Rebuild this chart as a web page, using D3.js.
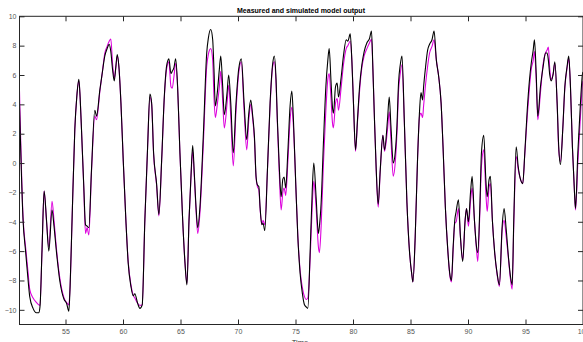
<!DOCTYPE html>
<html><head><meta charset="utf-8">
<script src="https://cdn.jsdelivr.net/npm/d3@7"></script>
<style>html,body{margin:0;padding:0;background:#fff;overflow:hidden}</style>
</head><body><svg id="c" width="583" height="342"></svg>
<script>
const title = "Measured and simulated model output";
const xLabel = "Time";
const xTicks = [55, 60, 65, 70, 75, 80, 85, 90, 95, 100];
const yTicks = [-10, -8, -6, -4, -2, 0, 2, 4, 6, 8, 10];
const time = [51.00,51.31,51.54,51.75,51.89,52.18,52.47,52.67,52.78,52.96,53.14,53.35,53.55,53.83,54.00,54.22,54.50,54.88,55.09,55.29,55.40,55.57,55.81,55.98,56.16,56.27,56.39,56.59,56.74,56.88,57.03,57.26,57.55,57.70,57.99,58.19,58.42,58.62,58.80,58.94,59.09,59.24,59.38,59.50,59.64,59.82,60.02,60.25,60.45,60.69,60.89,61.03,61.27,61.47,61.67,61.90,62.14,62.34,62.49,62.66,62.92,63.12,63.36,63.59,63.79,63.99,64.17,64.28,64.43,64.58,64.75,64.95,65.19,65.39,65.56,65.74,65.91,66.06,66.20,66.35,66.50,66.69,66.98,67.28,67.42,67.63,67.80,67.91,68.03,68.20,68.38,68.50,68.67,68.81,69.05,69.19,69.37,69.59,69.83,70.06,70.29,70.53,70.76,70.94,71.11,71.28,71.43,71.57,71.69,71.81,71.92,72.07,72.18,72.33,72.56,72.79,73.02,73.16,73.31,73.42,73.60,73.75,73.90,74.01,74.15,74.33,74.53,74.68,74.82,75.03,75.20,75.40,75.60,75.78,75.93,76.07,76.27,76.45,76.59,76.79,76.99,77.08,77.23,77.43,77.64,77.81,77.93,78.08,78.22,78.30,78.48,78.62,78.74,78.95,79.17,79.41,79.55,79.76,79.90,80.04,80.22,80.39,80.57,80.77,80.97,81.21,81.44,81.61,81.73,81.85,82.02,82.19,82.37,82.60,82.74,83.00,83.15,83.30,83.50,83.67,83.82,83.96,84.11,84.26,84.46,84.69,84.92,85.13,85.21,85.41,85.61,85.79,85.91,86.05,86.14,86.29,86.49,86.66,86.87,87.05,87.25,87.45,87.66,87.83,88.03,88.24,88.41,88.56,88.71,88.85,88.97,89.17,89.34,89.54,89.75,89.87,90.04,90.22,90.36,90.56,90.74,90.85,91.03,91.17,91.37,91.55,91.67,91.84,91.95,92.12,92.32,92.53,92.73,92.97,93.14,93.32,93.54,93.69,93.84,93.98,94.19,94.36,94.56,94.76,94.94,95.15,95.35,95.50,95.67,95.78,95.93,96.07,96.30,96.54,96.74,96.88,96.99,97.11,97.23,97.41,97.55,97.75,97.89,98.04,98.24,98.42,98.62,98.76,98.91,99.08,99.26,99.35,99.55,99.78,99.96,100.0];
const measured = [4.0,-3.9,-6.1,-8.0,-9.1,-9.9,-10.2,-10.2,-9.8,-5.9,-1.9,-3.9,-6.0,-3.2,-4.3,-6.1,-8.0,-9.3,-9.55,-10.1,-8.4,-3.9,2.3,4.5,5.7,4.5,2.3,-1.6,-4.2,-4.3,-4.4,-0.45,3.6,3.2,5.0,6.1,7.3,7.8,8.1,7.6,6.4,5.6,6.6,7.4,6.6,4.1,0.2,-3.9,-6.8,-8.4,-9.05,-8.9,-9.55,-9.9,-9.66,-3.9,1.1,4.7,4.1,0.7,-1.4,-3.5,0.2,4.5,6.6,7.1,6.1,6.25,6.5,7.1,5.2,0.7,-3.9,-6.8,-8.3,-3.9,-0.9,1.2,-0.7,-3.0,-4.4,-3.0,1.8,7.5,8.5,9.1,8.4,6.4,3.9,4.8,6.4,7.3,5.2,3.3,4.8,6.0,4.1,0.7,4.1,6.4,7.1,4.1,1.6,3.4,4.3,3.2,1.8,-0.9,-1.5,-1.6,-3.0,-4.2,-4.1,-4.6,-0.45,4.1,6.8,7.3,5.7,3.0,-0.45,-2.3,-1.1,-0.95,-1.7,0.7,3.9,4.9,2.95,-1.6,-5.0,-7.5,-8.9,-9.66,-9.8,-9.9,-6.1,-2.0,0.0,-2.3,-4.8,-4.3,-2.7,1.4,5.2,7.0,7.8,5.7,3.75,3.4,5.2,5.45,4.5,5.7,7.3,8.4,8.3,8.8,7.0,4.1,0.9,2.95,5.2,6.7,7.6,8.2,8.5,9.0,6.4,3.4,-0.45,-2.8,-0.45,1.9,0.9,2.95,4.5,2.5,0.0,0.7,2.5,5.45,6.7,7.3,2.95,-2.7,-6.1,-7.7,-8.1,-5.0,0.2,3.6,4.8,4.3,5.2,6.4,7.7,8.1,8.4,9.0,7.0,5.9,4.1,1.1,-3.0,-5.9,-7.5,-8.0,-5.7,-3.9,-3.3,-2.5,-5.0,-6.7,-3.9,-3.1,-4.0,-2.0,-0.9,-3.9,-5.7,-6.1,-3.0,0.7,1.9,-1.1,-2.3,-1.1,-0.9,-3.9,-6.1,-7.5,-8.3,-4.3,-3.1,-4.5,-6.6,-7.7,-8.3,-3.9,1.1,-0.2,-1.1,-1.4,0.7,3.6,5.7,6.8,7.7,8.4,6.1,3.2,5.2,6.6,7.5,7.5,7.0,6.0,5.6,6.1,6.9,4.1,1.1,-0.1,2.3,5.2,6.6,7.3,5.2,1.1,-2.0,-3.1,0.7,4.1,6.1,6.2];
const simulated = [4.9,-3.7,-5.8,-7.5,-8.6,-9.2,-9.5,-9.66,-9.7,-5.9,-1.9,-4.0,-5.7,-2.6,-3.9,-5.9,-7.8,-9.2,-9.5,-9.66,-8.4,-3.9,2.3,4.5,5.6,4.5,2.3,-1.7,-4.8,-4.4,-4.9,-0.6,3.2,2.95,4.9,6.1,7.5,7.95,8.3,8.45,6.8,5.8,6.5,7.3,6.6,4.1,0.2,-3.9,-6.7,-8.3,-9.0,-9.2,-9.55,-9.7,-9.66,-3.9,1.1,4.5,4.0,0.6,-1.5,-3.6,0.1,4.4,6.4,6.9,5.2,5.1,5.9,6.8,5.1,0.7,-3.9,-6.8,-8.2,-3.9,-1.0,0.8,-0.9,-3.2,-4.8,-3.4,1.2,6.6,7.4,7.8,7.0,4.5,3.1,4.0,5.2,6.25,4.2,2.4,4.1,5.3,3.2,-0.2,3.6,6.1,6.9,3.6,0.9,2.95,4.0,3.0,1.6,-1.0,-1.6,-1.8,-3.1,-4.2,-3.9,-4.2,-0.5,3.9,6.6,6.9,5.4,2.8,-0.9,-3.2,-2.0,-1.7,-2.2,0.0,2.95,3.8,2.5,-1.6,-4.9,-7.3,-8.5,-9.1,-9.3,-9.2,-6.6,-3.0,-1.25,-3.0,-5.7,-6.1,-4.3,0.0,3.6,5.7,6.1,4.5,2.7,2.4,4.1,4.4,3.6,5.0,6.7,7.8,8.0,8.3,7.0,4.1,0.8,2.8,4.9,6.5,7.3,7.8,8.2,8.45,6.4,3.4,-0.5,-3.0,-0.5,1.9,0.8,2.3,3.5,1.6,-0.9,0.0,2.0,4.9,6.1,6.7,2.9,-2.7,-6.1,-7.7,-8.1,-5.0,0.2,3.2,3.4,3.1,3.9,5.2,6.6,7.5,7.95,8.4,7.0,5.9,4.1,1.1,-3.0,-5.9,-7.6,-8.1,-5.9,-4.1,-4.0,-3.1,-5.0,-6.6,-3.9,-3.1,-4.3,-2.6,-1.7,-3.9,-5.9,-6.7,-3.4,-0.2,0.9,-2.0,-3.3,-1.6,-1.4,-3.9,-6.1,-7.6,-8.4,-4.6,-3.9,-5.0,-6.7,-7.9,-8.6,-4.2,0.45,-0.4,-1.1,-1.4,0.6,3.2,5.2,6.4,7.0,7.6,5.7,2.95,4.8,6.8,7.5,7.7,7.9,6.4,5.7,6.1,6.8,4.1,0.9,0.1,2.3,5.1,6.5,7.15,5.2,1.1,-2.0,-3.2,0.0,3.2,5.45,5.6];

const svg = d3.select("#c");
const L = 19.5, R = 583, T = 16.3, B = 324.5;
const x = d3.scaleLinear().domain([51, 100]).range([L, R]);
const y = d3.scaleLinear().domain([-11, 10]).range([B, T]);
const font = "'Liberation Sans', Arial, Helvetica, sans-serif";
const axisCol = "#262626";

svg.append("defs").append("clipPath").attr("id", "clip")
  .append("rect").attr("x", L).attr("y", T).attr("width", R - L).attr("height", B - T);

const rows = time.map((t, i) => ({t, m: measured[i], s: simulated[i]}));
const g = svg.append("g").attr("clip-path", "url(#clip)");
const lineS = d3.line().x(d => x(d.t)).y(d => y(d.s)).curve(d3.curveMonotoneX);
const lineM = d3.line().x(d => x(d.t)).y(d => y(d.m)).curve(d3.curveMonotoneX);
g.append("path").datum(rows).attr("d", lineS).attr("fill", "none").attr("stroke", "#dd00dd").attr("stroke-width", 1.1);
g.append("path").datum(rows).attr("d", lineM).attr("fill", "none").attr("stroke", "#000").attr("stroke-width", 1.1);

function styleAxis(sel, showLabels) {
  sel.select(".domain").remove();
  sel.selectAll(".tick line").attr("stroke", axisCol).attr("stroke-width", 1);
  sel.selectAll(".tick text").attr("fill", "#555").style("font-family", font).style("font-size", "7px");
  if (!showLabels) sel.selectAll(".tick text").remove();
}
const ax = svg.append("g").attr("transform", `translate(0,${B})`)
  .call(d3.axisBottom(x).tickValues(xTicks).tickSizeInner(-5).tickSizeOuter(0).tickPadding(5).tickFormat(d3.format("d")));
styleAxis(ax, true);
const axT = svg.append("g").attr("transform", `translate(0,${T})`)
  .call(d3.axisTop(x).tickValues(xTicks).tickSizeInner(-5).tickSizeOuter(0));
styleAxis(axT, false);
const ay = svg.append("g").attr("transform", `translate(${L},0)`)
  .call(d3.axisLeft(y).tickValues(yTicks).tickSizeInner(-5).tickSizeOuter(0).tickPadding(3).tickFormat(d3.format("d")));
styleAxis(ay, true);
const ayR = svg.append("g").attr("transform", `translate(${R},0)`)
  .call(d3.axisRight(y).tickValues(yTicks).tickSizeInner(-5).tickSizeOuter(0));
styleAxis(ayR, false);

svg.append("rect").attr("x", L).attr("y", T).attr("width", R - L).attr("height", B - T)
  .attr("fill", "none").attr("stroke", axisCol).attr("stroke-width", 1);

svg.append("text").attr("x", 301).attr("y", 12.5).attr("text-anchor", "middle")
  .style("font-family", font).style("font-size", "7px").style("font-weight", "bold").attr("fill", "#000").text(title);
svg.append("text").attr("x", 300).attr("y", 344.5).attr("text-anchor", "middle")
  .style("font-family", font).style("font-size", "7.5px").attr("fill", "#333").text(xLabel);
</script></body></html>
